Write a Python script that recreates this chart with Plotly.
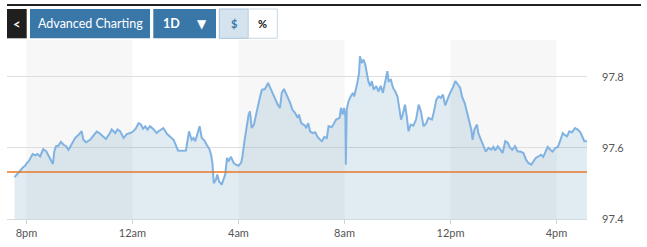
import plotly.graph_objects as go

# ---- data ----
times = ["19:33","19:38","19:46","19:52","19:57","20:01","20:05","20:10","20:14","20:20",
 "20:25","20:31","20:38","20:45","20:50","20:55","21:00","21:03","21:07","21:12",
 "21:18","21:24","21:30","21:35","21:39","21:45","21:50","21:58","22:05","22:09",
 "22:15","22:24","22:32","22:39","22:45","22:53","23:00","23:09","23:13","23:21",
 "23:26","23:32","23:40","23:47","23:55","00:02","00:08","00:14","00:19","00:24",
 "00:29","00:34","00:40","00:48","00:55","00:59","01:10","01:18","01:25","01:33",
 "01:38","01:43","01:52","02:01","02:05","02:08","02:14","02:18","02:22","02:28",
 "02:32","02:37","02:43","02:48","02:54","02:58","03:01","03:04","03:09","03:12",
 "03:16","03:22","03:26","03:30","03:34","03:37","03:43","03:49","03:54","04:00",
 "04:06","04:09","04:14","04:18","04:23","04:26","04:30","04:35","04:39","04:44",
 "04:49","04:53","05:00","05:07","05:12","05:17","05:22","05:25","05:29","05:34",
 "05:38","05:43","05:47","05:52","05:57","06:02","06:08","06:14","06:17","06:22",
 "06:27","06:31","06:33","06:38","06:42","06:48","06:54","06:59","07:05","07:09",
 "07:14","07:20","07:24","07:31","07:35","07:41","07:49","07:52","07:56","07:59",
 "08:02","08:03","08:05","08:09","08:14","08:19","08:22","08:26","08:29","08:33",
 "08:35","08:39","08:43","08:47","08:51","08:54","08:58","09:02","09:06","09:12",
 "09:17","09:22","09:27","09:32","09:37","09:40","09:45","09:50","09:55","10:00",
 "10:04","10:08","10:12","10:17","10:21","10:25","10:30","10:36","10:42","10:48",
 "10:53","10:59","11:05","11:10","11:18","11:21","11:28","11:33","11:38","11:43",
 "11:48","11:54","11:59","12:05","12:11","12:17","12:22","12:26","12:32","12:37",
 "12:42","12:47","12:50","12:54","13:00","13:03","13:09","13:15","13:20","13:26",
 "13:32","13:37","13:41","13:47","13:52","13:58","14:04","14:10","14:15","14:20",
 "14:26","14:32","14:38","14:45","14:51","14:56","15:03","15:08","15:13","15:19",
 "15:25","15:30","15:36","15:40","15:46","15:51","15:57","16:03","16:08","16:14",
 "16:18","16:24","16:29","16:35","16:42","16:48","16:54","16:59","17:03","17:09"]

prices = [97.518,97.525,97.539,97.545,97.550,97.558,97.562,97.576,97.583,97.579,
 97.583,97.576,97.597,97.590,97.576,97.567,97.555,97.590,97.605,97.606,
 97.617,97.609,97.605,97.595,97.603,97.617,97.628,97.637,97.647,97.623,
 97.616,97.623,97.635,97.646,97.642,97.633,97.625,97.642,97.652,97.642,
 97.652,97.647,97.628,97.639,97.642,97.647,97.656,97.670,97.666,97.654,
 97.661,97.652,97.661,97.652,97.642,97.647,97.656,97.640,97.631,97.623,
 97.609,97.593,97.592,97.593,97.623,97.647,97.623,97.628,97.619,97.647,
 97.661,97.628,97.621,97.609,97.597,97.581,97.558,97.501,97.511,97.525,
 97.506,97.497,97.511,97.525,97.572,97.562,97.575,97.558,97.553,97.550,
 97.558,97.576,97.623,97.661,97.694,97.703,97.656,97.666,97.694,97.717,
 97.745,97.764,97.766,97.783,97.769,97.755,97.745,97.736,97.722,97.713,
 97.755,97.766,97.755,97.745,97.727,97.708,97.699,97.685,97.694,97.670,
 97.666,97.663,97.656,97.670,97.647,97.642,97.644,97.631,97.623,97.619,
 97.631,97.628,97.661,97.659,97.666,97.680,97.685,97.713,97.694,97.713,
 97.689,97.553,97.708,97.731,97.745,97.755,97.745,97.764,97.783,97.811,
 97.858,97.839,97.849,97.835,97.802,97.788,97.774,97.788,97.764,97.774,
 97.759,97.775,97.755,97.783,97.816,97.788,97.792,97.769,97.759,97.745,
 97.708,97.680,97.694,97.722,97.689,97.647,97.666,97.663,97.680,97.722,
 97.703,97.661,97.670,97.685,97.680,97.694,97.736,97.745,97.741,97.750,
 97.720,97.741,97.755,97.769,97.788,97.778,97.769,97.745,97.727,97.703,
 97.680,97.652,97.623,97.652,97.666,97.642,97.623,97.605,97.590,97.600,
 97.595,97.603,97.593,97.605,97.595,97.586,97.619,97.614,97.600,97.595,
 97.605,97.590,97.590,97.586,97.567,97.558,97.553,97.562,97.572,97.576,
 97.581,97.575,97.590,97.603,97.595,97.590,97.600,97.603,97.619,97.642,
 97.637,97.633,97.647,97.644,97.656,97.652,97.644,97.628,97.619,97.619]

prev_close = 97.532
tick_times = ["20:00", "00:00", "04:00", "08:00", "12:00", "16:00"]
tick_labels = ["8pm", "12am", "4am", "8am", "12pm", "4pm"]
y_ticks = [97.4, 97.6, 97.8]
y_labels = ["97.4", "97.6", "97.8"]
band_starts = ["20:00", "04:00", "12:00"]
band_ends = ["00:00", "08:00", "16:00"]


def to_dt(hhmm):
    h = int(hhmm.split(":")[0])
    day = "2024-03-04" if h >= 19 else "2024-03-05"
    return f"{day} {hhmm}"


x = [to_dt(t) for t in times]

W, H = 647, 247
ML, MR, MT, MB = 7, 60, 40, 28
PW, PH = W - ML - MR, H - MT - MB


def px(xp):
    return (xp - ML) / PW


def py(yp):
    return (H - MB - yp) / PH

fig = go.Figure()
fig.add_trace(go.Scatter(
    x=x, y=prices, mode="lines",
    line=dict(color="#80b2e2", width=2),
    fill="tozeroy", fillcolor="rgba(40,110,160,0.14)",
    hoverinfo="skip", showlegend=False,
))

shapes = []
for s, e in zip(band_starts, band_ends):
    shapes.append(dict(type="rect", xref="x", yref="paper",
                       x0=to_dt(s), x1=to_dt(e), y0=0, y1=1,
                       fillcolor="#f7f7f7", line_width=0, layer="below"))
shapes.append(dict(type="line", xref="paper", yref="y", x0=0, x1=1,
                   y0=prev_close, y1=prev_close,
                   line=dict(color="#e8792a", width=1.5)))
# top dark rule
shapes.append(dict(type="rect", xref="paper", yref="paper",
                   x0=px(7), x1=px(641), y0=py(6), y1=py(4),
                   fillcolor="#222222", line_width=0))
# buttons
btns = [
    (7, 26.7, "#1f1f1f", None),
    (30, 150, "#3a77a9", None),
    (153.3, 216, "#3a77a9", None),
    (219.3, 248.3, "#d5e3ee", "#a8c3db"),
    (248.3, 277.3, "#ffffff", "#c5d6e5"),
]
for x0, x1, fc, lc in btns:
    shapes.append(dict(type="rect", xref="paper", yref="paper",
                       x0=px(x0), x1=px(x1), y0=py(38.3), y1=py(9),
                       fillcolor=fc,
                       line=dict(color=lc if lc else fc, width=1 if lc else 0)))

annots = []
def ann(text, xc, color, size, bold=False, family="Lato"):
    annots.append(dict(xref="paper", yref="paper", x=px(xc), y=py(23.7),
                       text=f"<b>{text}</b>" if bold else text,
                       showarrow=False, xanchor="center", yanchor="middle",
                       font=dict(family=family, size=size, color=color)))

ann("&lt;", 17, "#ffffff", 13, True)
ann("Advanced Charting", 90, "#ffffff", 12.5)
ann("1D", 171.5, "#ffffff", 12.5, True)
ann("▼", 201.5, "#ffffff", 12, False, "DejaVu Sans")
ann("$", 233.8, "#3a77a9", 11, True)
ann("%", 262.8, "#111111", 11, True)

fig.update_layout(
    width=W, height=H,
    margin=dict(l=ML, r=MR, t=MT, b=MB),
    paper_bgcolor="#ffffff", plot_bgcolor="#ffffff",
    shapes=shapes, annotations=annots,
    font=dict(family="Lato", size=11, color="#555555"),
    xaxis=dict(type="date",
               range=["2024-03-04 19:16", "2024-03-05 17:09"],
               tickvals=[to_dt(t) for t in tick_times],
               ticktext=tick_labels,
               showgrid=False, zeroline=False,
               showline=True, linecolor="#d3dce3", linewidth=1,
               ticks="outside", ticklen=4, tickcolor="#c9d4dd",
               tickfont=dict(family="Lato", size=11, color="#555555"),
               fixedrange=True),
    yaxis=dict(side="right", range=[97.4, 97.904],
               tickvals=y_ticks, ticktext=y_labels,
               showgrid=True, gridcolor="#dedede", gridwidth=1,
               zeroline=False, showline=False, ticks="",
               ticklabelstandoff=14,
               tickfont=dict(family="Lato", size=11, color="#555555"),
               fixedrange=True),
)

fig.write_html("out.html", config={"displayModeBar": False})
